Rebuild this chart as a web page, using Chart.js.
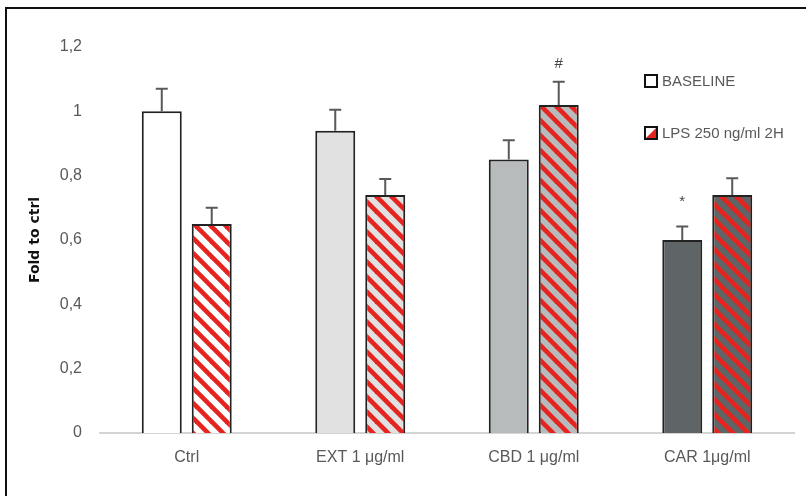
<!DOCTYPE html>
<html>
<head>
<meta charset="utf-8">
<script src="https://cdn.jsdelivr.net/npm/chart.js@4/dist/chart.umd.min.js"></script>
<style>
  html, body { margin: 0; padding: 0; background: #fff; overflow: hidden; }
  #wrap { position: relative; width: 806px; height: 496px; }
  #frame { position: absolute; left: 5px; top: 7px; width: 900px; height: 600px;
           border-left: 2px solid #111; border-top: 2px solid #111; pointer-events: none; }
  canvas { position: absolute; left: 0; top: 0; }
</style>
</head>
<body>
<div id="wrap">
  <canvas id="chart" width="806" height="496"></canvas>
  <div id="frame"></div>
</div>
<script>
// values
const categories = ['Ctrl', 'EXT 1 μg/ml', 'CBD 1 μg/ml', 'CAR 1μg/ml'];
const baselineValues = [1.00, 0.94, 0.85, 0.60];
const baselineErrors = [0.07, 0.065, 0.06, 0.042];
const lpsValues = [0.65, 0.74, 1.02, 0.74];
const lpsErrors = [0.05, 0.05, 0.072, 0.052];
const baselineMarks = ['', '', '', '*'];
const lpsMarks = ['', '', '#', ''];
const seriesNames = ['BASELINE', 'LPS 250 ng/ml 2H'];

const fills = ['#ffffff', '#e1e1e1', '#b8bbbb', '#5f6566'];
const stripeRed = '#e5231f';
const textGray = '#595959';

// diagonal red hatch on top of the category colour
function hatch(bg) {
    const p = 15;
    const c = document.createElement('canvas');
    c.width = p; c.height = p;
    const g = c.getContext('2d');
    g.fillStyle = bg;
    g.fillRect(0, 0, p, p);
    g.strokeStyle = stripeRed;
    g.lineWidth = 4.6;
    // lines run well past the tile so the joins are seamless
    for (let k = -1; k <= 1; k++) {
        g.beginPath();
        g.moveTo(k * p - p, -p);
        g.lineTo(k * p + 2 * p, 2 * p);
        g.stroke();
    }
    return g.createPattern(c, 'repeat');
}

const errors = [baselineErrors, lpsErrors];
const marks = [baselineMarks, lpsMarks];

const errorBars = {
    id: 'errorBars',
    afterDatasetsDraw(chart) {
        const ctx = chart.ctx;
        const y = chart.scales.y;
        ctx.save();
        chart.data.datasets.forEach((ds, i) => {
            const meta = chart.getDatasetMeta(i);
            meta.data.forEach((bar, j) => {
                const top = y.getPixelForValue(ds.data[j] + errors[i][j]);
                ctx.strokeStyle = textGray;
                ctx.lineWidth = 2;
                ctx.beginPath();
                ctx.moveTo(bar.x, bar.y);
                ctx.lineTo(bar.x, top);
                ctx.moveTo(bar.x - 6, top);
                ctx.lineTo(bar.x + 6, top);
                ctx.stroke();
                if (marks[i][j]) {
                    ctx.fillStyle = '#444';
                    ctx.font = '15px "Liberation Sans", sans-serif';
                    ctx.textAlign = 'center';
                    ctx.textBaseline = 'alphabetic';
                    ctx.fillText(marks[i][j], bar.x, top - (marks[i][j] === '*' ? 20 : 14));
                }
            });
        });
        ctx.restore();
    }
};

const boxLegend = {
    id: 'boxLegend',
    afterDraw(chart) {
        const ctx = chart.ctx;
        const x = 645, ys = [81, 133];
        ctx.save();
        ys.forEach((cy, i) => {
            ctx.fillStyle = '#fff';
            ctx.fillRect(x, cy - 6, 12, 12);
            if (i === 1) {
                ctx.fillStyle = stripeRed;
                ctx.beginPath();
                ctx.moveTo(x + 12, cy - 6);
                ctx.lineTo(x + 12, cy + 6);
                ctx.lineTo(x, cy + 6);
                ctx.closePath();
                ctx.fill();
            }
            ctx.strokeStyle = '#111';
            ctx.lineWidth = 2;
            ctx.strokeRect(x, cy - 6, 12, 12);
            ctx.fillStyle = textGray;
            ctx.font = '15px "Liberation Sans", sans-serif';
            ctx.textAlign = 'left';
            ctx.textBaseline = 'middle';
            ctx.fillText(seriesNames[i], x + 17, cy + 1);
        });
        ctx.restore();
    }
};

new Chart(document.getElementById('chart'), {
    type: 'bar',
    data: {
        labels: categories,
        datasets: [
            {
                label: seriesNames[0],
                data: baselineValues,
                backgroundColor: fills,
                borderColor: '#222',
                borderWidth: 2,
            },
            {
                label: seriesNames[1],
                data: lpsValues,
                backgroundColor: fills.map(hatch),
                borderColor: '#222',
                borderWidth: 2,
            },
        ],
    },
    options: {
        responsive: false,
        animation: false,
        layout: { padding: { top: 47, right: 12, left: 0, bottom: 0 } },
        categoryPercentage: 0.576,
        barPercentage: 0.8,
        plugins: {
            legend: { display: false },
            tooltip: { enabled: false },
        },
        scales: {
            x: {
                grid: { display: false, drawTicks: false },
                border: { display: true, color: '#d4d4d4', width: 2 },
                ticks: {
                    color: textGray,
                    padding: 15,
                    font: { family: 'Liberation Sans', size: 16 },
                },
                afterFit: (scale) => { scale.height = 63; },
            },
            y: {
                min: 0,
                max: 1.2,
                grid: { display: false, drawTicks: false },
                border: { display: false },
                ticks: {
                    stepSize: 0.2,
                    color: textGray,
                    padding: 18,
                    font: { family: 'Liberation Sans', size: 16 },
                    callback: (v) => String(Math.round(v * 10) / 10).replace('.', ','),
                },
                title: {
                    display: true,
                    text: 'Fold to ctrl',
                    color: '#111',
                    padding: { top: 27, bottom: 0 },
                    font: { family: 'DejaVu Sans', size: 14, weight: 'bold' },
                },
                afterFit: (scale) => { scale.width = 100; },
            },
        },
    },
    plugins: [errorBars, boxLegend],
});
</script>
</body>
</html>
